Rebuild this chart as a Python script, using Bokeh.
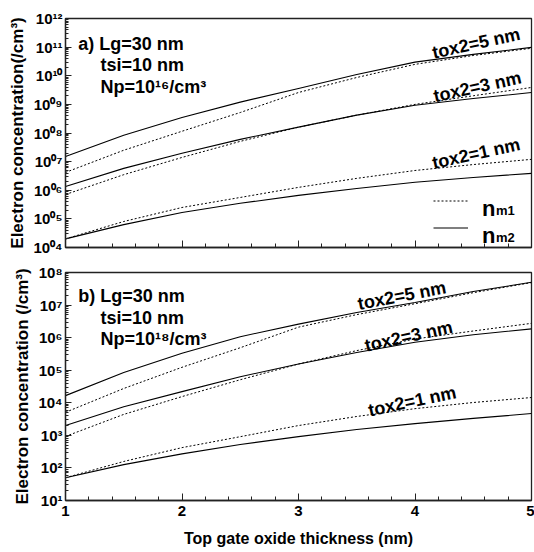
from bokeh.plotting import figure
from bokeh.layouts import column
from bokeh.models import Range1d, FixedTicker, SingleIntervalTicker, Label, Legend, LegendItem
from bokeh.embed import file_html
from bokeh.resources import INLINE

# ---------------- data ----------------
x_nm = [1, 1.5, 2, 2.5, 3, 3.5, 4, 4.5, 5]

# panel a) Np = 1e16
a_t5_nm2 = [1.5e7, 8.3e7, 3.5e8, 1.2e9, 3.6e9, 1.1e10, 3.0e10, 5.6e10, 9.8e10]
a_t5_nm1 = [4.2e6, 2.5e7, 1.15e8, 5.2e8, 2.6e9, 8.7e9, 2.5e10, 5.1e10, 9.1e10]
a_t3_nm2 = [1.35e6, 5.8e6, 1.95e7, 6.0e7, 1.6e8, 4.2e8, 9.3e8, 1.6e9, 2.6e9]
a_t3_nm1 = [7.1e5, 3.5e6, 1.4e7, 5.1e7, 1.6e8, 4.2e8, 1.0e9, 2.0e9, 3.9e9]
a_t1_nm2 = [2.0e4, 6.3e4, 1.66e5, 3.5e5, 6.6e5, 1.15e6, 1.9e6, 2.8e6, 3.9e6]
a_t1_nm1 = [2.0e4, 8.1e4, 2.5e5, 5.6e5, 1.26e6, 2.6e6, 4.9e6, 7.9e6, 1.2e7]

# panel b) Np = 1e18
b_t5_nm2 = [1.66e4, 8.5e4, 3.3e5, 1.07e6, 2.6e6, 5.9e6, 1.2e7, 2.6e7, 5.0e7]
b_t5_nm1 = [5.1e3, 2.75e4, 1.23e5, 4.9e5, 2.1e6, 5.1e6, 1.1e7, 2.4e7, 4.9e7]
b_t3_nm2 = [2.0e3, 7.6e3, 2.2e4, 6.3e4, 1.55e5, 3.5e5, 7.2e5, 1.23e6, 1.86e6]
b_t3_nm1 = [930, 4.4e3, 1.55e4, 5.1e4, 1.55e5, 4.0e5, 9.1e5, 1.6e6, 2.75e6]
b_t1_nm2 = [50, 126, 270, 525, 912, 1514, 2291, 3311, 4677]
b_t1_nm1 = [50, 158, 420, 910, 2.0e3, 3.8e3, 6.6e3, 1.02e4, 1.45e4]

x_ticks = [1, 2, 3, 4, 5]
x_tick_labels = ["1", "2", "3", "4", "5"]

a_y_ticks = [1e4, 1e5, 1e6, 1e7, 1e8, 1e9, 1e10, 1e11, 1e12]
a_y_labels = ["10\u2070\u2074", "10\u2070\u2075", "10\u2070\u2076", "10\u2070\u2077",
              "10\u2070\u2078", "10\u2070\u2079", "10\u00b9\u2070", "10\u00b9\u00b9",
              "10\u00b9\u00b2"]
b_y_ticks = [1e1, 1e2, 1e3, 1e4, 1e5, 1e6, 1e7, 1e8]
b_y_labels = ["10\u00b9", "10\u00b2", "10\u00b3", "10\u2074", "10\u2075", "10\u2076",
              "10\u2077", "10\u2078"]

FONT = "Liberation Sans"
W = 534


def minor_log(ticks):
    out = []
    for t in ticks[:-1]:
        for k in range(2, 10):
            out.append(t * k)
    return out


def make_fig(height, yr, yticks, ylabels, btop, bbot, ylabel, show_x):
    p = figure(width=W, height=height, x_range=Range1d(1, 5),
               y_range=Range1d(yr[0], yr[1]), y_axis_type="log",
               output_backend="svg", toolbar_location=None,
               min_border_left=65, min_border_right=3,
               min_border_top=btop, min_border_bottom=bbot)
    p.grid.visible = False
    p.outline_line_color = "#222222"
    p.outline_line_width = 1.3
    p.background_fill_color = "white"
    p.border_fill_color = "white"

    xa = p.xaxis[0]
    xa.ticker = SingleIntervalTicker(interval=1, num_minor_ticks=5)
    xa.axis_line_color = "#222222"
    xa.axis_line_width = 1.3
    xa.major_tick_in = 7
    xa.major_tick_out = 0
    xa.minor_tick_in = 4
    xa.minor_tick_out = 0
    xa.major_tick_line_color = "#222222"
    xa.minor_tick_line_color = "#222222"
    xa.major_label_text_font = FONT
    xa.major_label_text_font_style = "bold"
    xa.major_label_text_color = "black"
    if show_x:
        xa.major_label_text_font_size = "15px"
        xa.major_label_standoff = 5
        xa.major_label_overrides = {t: s for t, s in zip(x_ticks, x_tick_labels)}
        xa.axis_label = "Top gate oxide thickness (nm)"
        xa.axis_label_text_font = FONT
        xa.axis_label_text_font_style = "bold"
        xa.axis_label_text_font_size = "16px"
        xa.axis_label_text_color = "black"
        xa.axis_label_standoff = 11
    else:
        xa.major_label_overrides = {t: "" for t in x_ticks}
        xa.major_label_text_font_size = "0px"
        xa.major_label_standoff = 0

    ya = p.yaxis[0]
    ya.ticker = FixedTicker(ticks=yticks, minor_ticks=minor_log(yticks))
    ya.major_label_overrides = {t: s for t, s in zip(yticks, ylabels)}
    ya.axis_line_color = "#222222"
    ya.axis_line_width = 1.3
    ya.major_tick_in = 6
    ya.major_tick_out = 0
    ya.minor_tick_in = 3
    ya.minor_tick_out = 0
    ya.major_tick_line_color = "#222222"
    ya.minor_tick_line_color = "#222222"
    ya.major_label_text_font = FONT
    ya.major_label_text_font_style = "bold"
    ya.major_label_text_font_size = "15px"
    ya.major_label_text_color = "black"
    ya.major_label_standoff = 3
    ya.axis_label = ylabel
    ya.axis_label_text_font = FONT
    ya.axis_label_text_font_style = "bold"
    ya.axis_label_text_font_size = "17px"
    ya.axis_label_text_color = "black"
    ya.axis_label_standoff = 3
    return p


def add_curves(p, ys_dot, ys_sol):
    rd = rs = None
    for yd in ys_dot:
        rd = p.line(x_nm, yd, line_color="black", line_width=1, line_dash="2 2")
    for ys in ys_sol:
        rs = p.line(x_nm, ys, line_color="black", line_width=1.1)
    return rd, rs


def txt(p, x, y, s, size="18px", angle=0.0):
    p.add_layout(Label(x=x, y=y, text=s, text_font=FONT, text_font_style="bold",
                       text_font_size=size, text_color="black", angle=angle,
                       text_align="left", text_baseline="alphabetic"))


# ---------------- panel a ----------------
p1 = make_fig(258, (1e4, 1e12), a_y_ticks, a_y_labels, 18, 11,
              "Electron concentration(/cm\u00b3)", False)
rd, rs = add_curves(p1, [a_t5_nm1, a_t3_nm1, a_t1_nm1], [a_t5_nm2, a_t3_nm2, a_t1_nm2])

txt(p1, 1.11, 10 ** 11.10, "a) Lg=30 nm")
txt(p1, 1.30, 10 ** 10.36, "tsi=10 nm")
txt(p1, 1.30, 10 ** 9.59, "Np=10\u00b9\u2076/cm\u00b3")
txt(p1, 4.15, 10 ** 10.80, "tox2=5 nm", "18px", 0.215)
txt(p1, 4.16, 10 ** 9.28, "tox2=3 nm", "18px", 0.215)
txt(p1, 4.15, 10 ** 6.95, "tox2=1 nm", "18px", 0.215)

leg = Legend(items=[LegendItem(label=" ", renderers=[rd]),
                    LegendItem(label=" ", renderers=[rs])],
             location=(368, 6), glyph_width=35, glyph_height=27, label_standoff=4,
             spacing=0, padding=0, margin=0, border_line_alpha=0,
             background_fill_alpha=0, label_text_font=FONT,
             label_text_font_size="10px", label_height=27)
p1.add_layout(leg)
txt(p1, 4.576, 10 ** 5.36, "n", "22px")
txt(p1, 4.695, 10 ** 5.29, "m1", "13px")
txt(p1, 4.576, 10 ** 4.42, "n", "22px")
txt(p1, 4.695, 10 ** 4.35, "m2", "13px")

# ---------------- panel b ----------------
p2 = make_fig(294, (1e1, 1e8), b_y_ticks, b_y_labels, 14, 52,
              "Electron concentration (/cm\u00b3)", True)
add_curves(p2, [b_t5_nm1, b_t3_nm1, b_t1_nm1], [b_t5_nm2, b_t3_nm2, b_t1_nm2])

txt(p2, 1.11, 10 ** 7.29, "b) Lg=30 nm")
txt(p2, 1.30, 10 ** 6.61, "tsi=10 nm")
txt(p2, 1.30, 10 ** 5.97, "Np=10\u00b9\u2078/cm\u00b3")
txt(p2, 3.51, 10 ** 7.03, "tox2=5 nm", "18px", 0.19)
txt(p2, 3.57, 10 ** 5.75, "tox2=3 nm", "18px", 0.215)
txt(p2, 3.60, 10 ** 3.76, "tox2=1 nm", "18px", 0.21)

layout = column(p1, p2, spacing=0)
open("out.html", "w").write(file_html(layout, INLINE))
